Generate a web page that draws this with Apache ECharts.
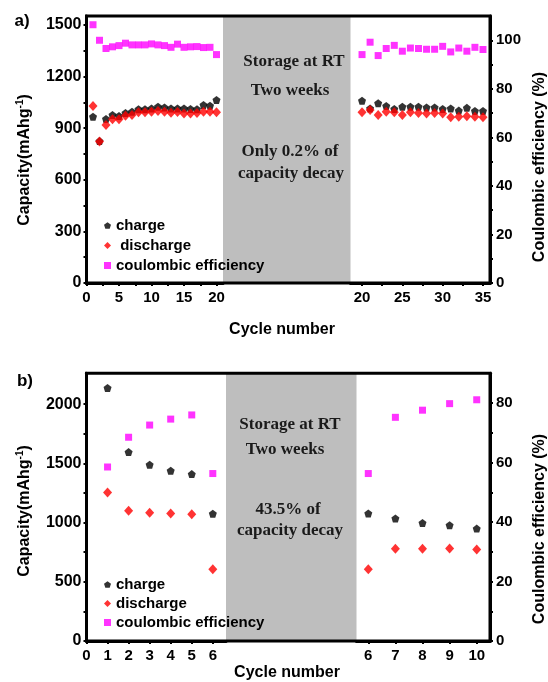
<!DOCTYPE html>
<html><head><meta charset="utf-8">
<script src="https://cdn.jsdelivr.net/npm/echarts@6/dist/echarts.min.js"></script>
<style>html,body{margin:0;padding:0;background:#fff}#chart{width:548px;height:682px}</style>
</head><body><div id="chart"></div>
<script>
// ---------- Panel a data ----------
const aCyclesBefore = [1,2,3,4,5,6,7,8,9,10,11,12,13,14,15,16,17,18,19,20];
const aChargeBefore = [967,825,953,977,971,988,996,1010,1010,1015,1025,1020,1015,1015,1015,1012,1010,1035,1030,1064];
const aDischargeBefore = [1029,822,918,952,952,972,977,992,992,996,1000,996,990,994,985,985,988,996,996,992];
const aCEBefore = [106.4,100.0,96.6,97.3,97.8,98.8,98.1,98.1,98.1,98.5,98.1,97.8,97.1,98.4,97.1,97.3,97.4,97.0,97.1,94.1];
const aCyclesAfter = [20,21,22,23,24,25,26,27,28,29,30,31,32,33,34,35];
const aChargeAfter = [1060,1015,1045,1029,1012,1025,1025,1025,1020,1020,1012,1015,1002,1018,1000,1000];
const aDischargeAfter = [992,1006,977,996,992,977,992,988,985,988,985,963,967,969,967,963];
const aCEAfter = [94.1,99.2,93.7,96.6,97.9,95.5,96.8,96.6,96.3,96.3,97.5,95.2,96.8,95.5,97.1,96.2];
const aCapLabels = [0,300,600,900,1200,1500];
const aCapTicks = [0,150,300,450,600,750,900,1050,1200,1350,1500];
const aCELabels = [0,20,40,60,80,100];
const aCETicks = [0,10,20,30,40,50,60,70,80,90,100];
const aXLabelsBefore = [0,5,10,15,20];
const aXTicksBefore = [0,2.5,5,7.5,10,12.5,15,17.5,20];
const aXLabelsAfter = [20,25,30,35];
const aXTicksAfter = [20,22.5,25,27.5,30,32.5,35];

// ---------- Panel b data ----------
const bCyclesBefore = [1,2,3,4,5,6];
const bChargeBefore = [2136,1595,1488,1437,1409,1074];
const bDischargeBefore = [1254,1099,1082,1076,1071,606];
const bCEBefore = [58.5,68.5,72.6,74.6,76.0,56.3];
const bCyclesAfter = [6,7,8,9,10];
const bChargeAfter = [1076,1034,997,978,949];
const bDischargeAfter = [606,778,778,781,772];
const bCEAfter = [56.3,75.2,77.6,79.8,81.1];
const bCapLabels = [0,500,1000,1500,2000];
const bCapTicks = [0,250,500,750,1000,1250,1500,1750,2000];
const bCELabels = [0,20,40,60,80];
const bCETicks = [0,10,20,30,40,50,60,70,80];
const bXLabelsBefore = [0,1,2,3,4,5,6];
const bXLabelsAfter = [6,7,8,9,10];

const SANS = "'Liberation Sans', Arial, Helvetica, sans-serif";
const SERIF = "'Liberation Serif', 'Times New Roman', serif";
const PENTA = 'path://M0,-1L0.951,-0.309L0.588,0.809L-0.588,0.809L-0.951,-0.309Z';

function pts(xs, ys) { return xs.map((x, i) => [x, ys[i]]); }
const plain = v => String(v);

function xAx(grid, min, max, labels, ticks) {
  return {
    gridIndex: grid, type: 'value', min: min, max: max,
    axisLine: { show: true, lineStyle: { color: '#000', width: 3 } },
    axisTick: { show: true, customValues: ticks, length: 3, lineStyle: { color: '#000', width: 2 } },
    axisLabel: { customValues: labels, formatter: plain, margin: 7, color: '#000', fontWeight: 'bold', fontSize: 15, fontFamily: SANS },
    splitLine: { show: false }
  };
}
function yAx(grid, pos, max, labels, ticks, show, fs, margin) {
  return {
    gridIndex: grid, type: 'value', position: pos, min: 0, max: max, show: show,
    axisLine: { show: true, lineStyle: { color: '#000', width: 3 } },
    axisTick: { show: true, customValues: ticks, length: 3, lineStyle: { color: '#000', width: 2 } },
    axisLabel: { customValues: labels, formatter: plain, margin: margin, color: '#000', fontWeight: 'bold', fontSize: fs, fontFamily: SANS },
    splitLine: { show: false }
  };
}
function sc(name, xi, yi, data, kind) {
  const s = { type: 'scatter', name: name, xAxisIndex: xi, yAxisIndex: yi, data: data, z: 3 };
  if (kind === 'charge') { s.symbol = PENTA; s.symbolSize = 8; s.itemStyle = { color: '#000' }; }
  else if (kind === 'discharge') { s.symbol = 'diamond'; s.symbolSize = [9, 10]; s.itemStyle = { color: '#ff0000' }; s.z = 4; }
  else { s.symbol = 'rect'; s.symbolSize = 7; s.itemStyle = { color: '#ff00ff' }; }
  return s;
}
function txt(x, y, text, font, extra) {
  return Object.assign({
    type: 'text', x: x, y: y, z: 50,
    style: Object.assign({ text: text, fill: '#000', align: 'center', verticalAlign: 'middle' }, font)
  }, extra || {});
}
const grayFont = { fontFamily: SERIF, fontWeight: 'bold', fontSize: 17, fill: '#1a1a1a' };
const titleFont = { fontFamily: SANS, fontWeight: 'bold', fontSize: 16 };
const capRich = {
  text: 'Capacity(mAhg{sup|-1})',
  rich: { sup: { fontFamily: SANS, fontWeight: 'bold', fontSize: 10, lineHeight: 10, verticalAlign: 'top', fill: '#000' } },
  fontFamily: SANS, fontWeight: 'bold', fontSize: 16, lineHeight: 20
};

const legendText = { fontSize: 15, fontWeight: 'bold', fontFamily: SANS, color: '#000' };

const option = {
  backgroundColor: '#fff',
  animation: false,
  grid: [
    { left: 86.5, top: 16, width: 136.5, height: 267 },
    { left: 350.5, top: 16, width: 139.5, height: 267 },
    { left: 86.5, top: 373.3, width: 139.5, height: 267.7 },
    { left: 356.5, top: 373.3, width: 133.5, height: 267.7 }
  ],
  xAxis: [
    xAx(0, 0, 21, aXLabelsBefore, aXTicksBefore),
    xAx(1, 18.57, 35.87, aXLabelsAfter, aXTicksAfter),
    xAx(2, 0, 6.627, bXLabelsBefore, bXLabelsBefore),
    xAx(3, 5.565, 10.49, bXLabelsAfter, bXLabelsAfter)
  ],
  yAxis: [
    yAx(0, 'left', 1552, aCapLabels, aCapTicks, true, 16, 5),
    yAx(0, 'right', 110, aCELabels, aCETicks, false, 15, 6),
    yAx(1, 'left', 1552, aCapLabels, aCapTicks, false, 16, 5),
    yAx(1, 'right', 110, aCELabels, aCETicks, true, 15, 6),
    yAx(2, 'left', 2260, bCapLabels, bCapTicks, true, 16, 5),
    yAx(2, 'right', 90, bCELabels, bCETicks, false, 15, 6),
    yAx(3, 'left', 2260, bCapLabels, bCapTicks, false, 16, 5),
    yAx(3, 'right', 90, bCELabels, bCETicks, true, 15, 6)
  ],
  legend: [
    { orient: 'vertical', left: 99, top: 213, itemWidth: 7, itemHeight: 7, itemGap: 5, itemTextGap: 6,
      textStyle: legendText, selectedMode: false,
      data: ['charge', ' discharge', 'coulombic efficiency'] },
    { orient: 'vertical', left: 99, top: 572, itemWidth: 7, itemHeight: 7, itemGap: 4, itemTextGap: 6,
      textStyle: legendText, selectedMode: false,
      data: ['charge ', 'discharge', 'coulombic efficiency '] }
  ],
  series: [
    sc('coulombic efficiency', 0, 1, pts(aCyclesBefore, aCEBefore), 'ce'),
    sc('charge', 0, 0, pts(aCyclesBefore, aChargeBefore), 'charge'),
    sc(' discharge', 0, 0, pts(aCyclesBefore, aDischargeBefore), 'discharge'),
    sc('coulombic efficiency', 1, 3, pts(aCyclesAfter, aCEAfter), 'ce'),
    sc('charge', 1, 2, pts(aCyclesAfter, aChargeAfter), 'charge'),
    sc(' discharge', 1, 2, pts(aCyclesAfter, aDischargeAfter), 'discharge'),
    sc('coulombic efficiency ', 2, 5, pts(bCyclesBefore, bCEBefore), 'ce'),
    sc('charge ', 2, 4, pts(bCyclesBefore, bChargeBefore), 'charge'),
    sc('discharge', 2, 4, pts(bCyclesBefore, bDischargeBefore), 'discharge'),
    sc('coulombic efficiency ', 3, 7, pts(bCyclesAfter, bCEAfter), 'ce'),
    sc('charge ', 3, 6, pts(bCyclesAfter, bChargeAfter), 'charge'),
    sc('discharge', 3, 6, pts(bCyclesAfter, bDischargeAfter), 'discharge')
  ],
  graphic: [
    { type: 'rect', z: 0, shape: { x: 223, y: 16, width: 127.5, height: 267 }, style: { fill: '#bebebe' } },
    { type: 'rect', z: 0, shape: { x: 226, y: 373.3, width: 130.5, height: 267.7 }, style: { fill: '#bebebe' } },
    { type: 'rect', z: 100, shape: { x: 86.5, y: 16, width: 403.5, height: 267 }, style: { fill: null, stroke: '#000', lineWidth: 3 } },
    { type: 'rect', z: 100, shape: { x: 86.5, y: 373.3, width: 403.5, height: 267.7 }, style: { fill: null, stroke: '#000', lineWidth: 3 } },
    txt(294, 62, 'Storage at RT', grayFont),
    txt(290, 91, 'Two weeks', grayFont),
    txt(290, 152, 'Only 0.2% of', grayFont),
    txt(291, 174, 'capacity decay', grayFont),
    txt(290, 425, 'Storage at RT', grayFont),
    txt(285, 450, 'Two weeks', grayFont),
    txt(288, 510, '43.5% of', grayFont),
    txt(290, 531, 'capacity decay', grayFont),
    txt(22, 21, 'a)', { fontFamily: SANS, fontWeight: 'bold', fontSize: 17 }),
    txt(25, 381, 'b)', { fontFamily: SANS, fontWeight: 'bold', fontSize: 17 }),
    txt(282, 330, 'Cycle number', titleFont),
    txt(287, 673, 'Cycle number', titleFont),
    { type: 'text', x: 25, y: 160, rotation: Math.PI / 2, z: 50,
      style: Object.assign({ fill: '#000', align: 'center', verticalAlign: 'middle' }, capRich) },
    { type: 'text', x: 25, y: 511, rotation: Math.PI / 2, z: 50,
      style: Object.assign({ fill: '#000', align: 'center', verticalAlign: 'middle' }, capRich) },
    txt(540, 167, 'Coulombic efficiency (%)', titleFont, { rotation: Math.PI / 2 }),
    txt(540, 529, 'Coulombic efficiency (%)', titleFont, { rotation: Math.PI / 2 })
  ]
};
const chart = echarts.init(document.getElementById('chart'));
chart.setOption(option);
</script>
</body></html>
